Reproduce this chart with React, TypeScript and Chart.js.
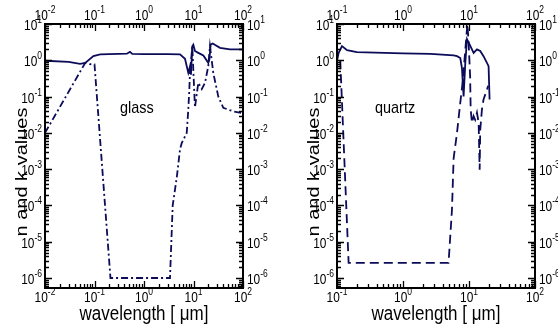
import { useEffect, useRef } from "react";
import { Chart, registerables } from "chart.js";

Chart.register(...registerables);

const NAVY = "#0b0b5a";
const SX = 0.85; // horizontal text compression of the reference

// ---------- glass (left panel) ----------
const glassNWave = [0.01, 0.03, 0.051, 0.065, 0.095, 0.13, 0.3, 0.45, 0.52, 0.58, 1, 3, 5.34, 6.73, 7.85, 8.49, 8.89, 9.46, 9.91, 10.7, 12.5, 15.8, 19.9, 20.9, 22.2, 24.4, 34.3, 54.6, 100];
const glassNVal = [0.97, 0.9, 0.8, 0.85, 1.3, 1.45, 1.5, 1.52, 1.7, 1.5, 1.48, 1.47, 1.45, 1.1, 0.45, 0.68, 0.4, 2.45, 2.7, 1.8, 1.6, 1.35, 0.85, 1.05, 2.7, 2.9, 2.2, 2.0, 2.0];
const glassKWave = [0.01, 0.065, 0.08, 0.1, 0.21, 3.35, 3.8, 4.6, 5.34, 5.78, 7.3, 7.85, 8.23, 8.5, 9.46, 10.7, 12.5, 14.7, 17.1, 19.9, 21.5, 25.1, 31.7, 40, 63.7, 100];
const glassKVal = [0.01, 0.85, 0.78, 0.77, 1e-6, 1e-6, 1e-4, 6e-4, 3.5e-3, 5.2e-3, 0.01, 0.044, 0.155, 0.46, 2.4, 0.05, 0.24, 0.16, 0.24, 0.69, 2.45, 0.45, 0.1, 0.049, 0.039, 0.035];

// ---------- quartz (right panel) ----------
const quartzNWave = [0.1, 0.106, 0.119, 0.142, 0.2, 1, 2.6, 5.85, 6.58, 7.38, 7.83, 8.11, 8.28, 8.79, 9.33, 10.5, 11.75, 13.2, 14.8, 16.6, 18.7, 19.8, 20.5];
const quartzNVal = [0.95, 1.6, 2.45, 1.9, 1.67, 1.55, 1.5, 1.36, 1.3, 1.15, 0.6, 0.19, 0.1, 0.85, 3.8, 2.45, 1.6, 2.0, 1.8, 1.3, 0.85, 0.69, 0.083];
const quartzKWave = [0.112, 0.15, 4.9, 5.52, 5.85, 6.58, 7.38, 8.1, 8.8, 9.45, 9.87, 10.4, 10.6, 11.1, 11.75, 12.4, 13.2, 14.0, 14.5, 14.8, 15.7, 16.6, 18.7, 19.5];
const quartzKVal = [1.0, 2.6e-6, 2.6e-6, 7.6e-5, 2e-3, 0.01, 0.068, 0.3, 2.0, 10, 3.1, 0.36, 0.044, 0.019, 0.029, 0.023, 0.036, 0.019, 9.6e-4, 0.012, 0.044, 0.083, 0.155, 0.2];

// ---------- axes ----------
const glassXDecades = [-2, -1, 0, 1, 2];
const quartzXDecades = [-1, 0, 1, 2];
const yDecades = [-6, -5, -4, -3, -2, -1, 0, 1];
const yMin = 5.3e-7;
const yMax = 10;
const xTitle = "wavelength [ \u03bcm]";
const yTitle = "n and k values";

const FONT = '"Liberation Sans", Arial, Helvetica, sans-serif';

function toPoints(xs: number[], ys: number[]) {
  return xs.map((x, i) => ({ x, y: ys[i] }));
}

function drawPow(ctx: CanvasRenderingContext2D, exp: number, x: number, y: number, align: string) {
  ctx.font = `14px ${FONT}`;
  const wb = ctx.measureText("10").width * SX;
  const es = String(exp);
  ctx.font = `10px ${FONT}`;
  const we = ctx.measureText(es).width * SX;
  const total = wb + we;
  const x0 = align === "center" ? x - total / 2 : align === "right" ? x - total : x;
  ctx.save();
  ctx.translate(x0, y);
  ctx.scale(SX, 1);
  ctx.textAlign = "left";
  ctx.textBaseline = "alphabetic";
  ctx.fillStyle = "#000";
  ctx.font = `14px ${FONT}`;
  ctx.fillText("10", 0, 0);
  ctx.font = `10px ${FONT}`;
  ctx.fillText(es, wb / SX, -7);
  ctx.restore();
}

function makeDeco(xDecades: number[], label: string) {
  return {
    id: "deco",
    afterDatasetsDraw(chart: any) {
      const ctx: CanvasRenderingContext2D = chart.ctx;
      const { left, right, top, bottom } = chart.chartArea;
      const xs = chart.scales.x;
      const ys = chart.scales.y;
      ctx.save();
      ctx.strokeStyle = "#000";
      // ticks
      ctx.lineWidth = 1.3;
      const xmin = xs.min, xmax = xs.max;
      for (let d = -3; d <= 2; d++) {
        for (let m = 1; m <= 9; m++) {
          const v = m * Math.pow(10, d);
          if (v < xmin * 0.999 || v > xmax * 1.001) continue;
          const px = Math.round(xs.getPixelForValue(v)) + 0.5;
          const len = m === 1 ? 7 : 4;
          ctx.beginPath();
          ctx.moveTo(px, bottom);
          ctx.lineTo(px, bottom - len);
          ctx.moveTo(px, top);
          ctx.lineTo(px, top + len);
          ctx.stroke();
        }
      }
      for (let d = -7; d <= 1; d++) {
        for (let m = 1; m <= 9; m++) {
          const v = m * Math.pow(10, d);
          if (v < yMin * 0.999 || v > yMax * 1.001) continue;
          const py = Math.round(ys.getPixelForValue(v)) + 0.5;
          const len = m === 1 ? 7 : 4;
          ctx.beginPath();
          ctx.moveTo(left, py);
          ctx.lineTo(left + len, py);
          ctx.moveTo(right, py);
          ctx.lineTo(right - len, py);
          ctx.stroke();
        }
      }
      // frame
      ctx.lineWidth = 2;
      ctx.strokeRect(left, top, right - left, bottom - top);
      // x labels
      xDecades.forEach((e) => {
        const px = xs.getPixelForValue(Math.pow(10, e));
        drawPow(ctx, e, px, bottom + 14, "center");
        drawPow(ctx, e, px, top - 4, "center");
      });
      yDecades.forEach((e) => {
        const py = ys.getPixelForValue(Math.pow(10, e));
        drawPow(ctx, e, left - 3, py + 6, "right");
        drawPow(ctx, e, right + 4, py + 6, "left");
      });
      // titles
      ctx.fillStyle = "#000";
      ctx.save();
      ctx.translate((left + right) / 2, 320);
      ctx.scale(SX, 1);
      ctx.font = `20px ${FONT}`;
      ctx.textAlign = "center";
      ctx.textBaseline = "alphabetic";
      ctx.fillText(xTitle, 0, 0);
      ctx.restore();

      ctx.save();
      ctx.translate(left - 18, 172);
      ctx.scale(SX, 1);
      ctx.rotate(-Math.PI / 2);
      ctx.font = `20px ${FONT}`;
      ctx.textAlign = "center";
      ctx.textBaseline = "alphabetic";
      ctx.fillText(yTitle, 0, 0);
      ctx.restore();

      // material label
      ctx.save();
      ctx.translate(left + (label === "glass" ? 75 : 38), 113);
      ctx.scale(SX, 1);
      ctx.font = `17px ${FONT}`;
      ctx.textAlign = "left";
      ctx.fillText(label, 0, 0);
      ctx.restore();
      ctx.restore();
    },
  };
}

function buildChart(canvas: HTMLCanvasElement, cfg: any) {
  return new Chart(canvas, {
    type: "line",
    data: {
      datasets: [
        {
          data: toPoints(cfg.nW, cfg.nV),
          borderColor: NAVY,
          borderWidth: 1.8,
          pointRadius: 0,
          fill: false,
          tension: 0,
        },
        {
          data: toPoints(cfg.kW, cfg.kV),
          borderColor: NAVY,
          borderWidth: 1.8,
          pointRadius: 0,
          fill: false,
          tension: 0,
          borderDash: cfg.dash,
        },
      ],
    },
    options: {
      animation: false,
      responsive: false,
      maintainAspectRatio: false,
      events: [],
      layout: { padding: cfg.padding },
      plugins: { legend: { display: false }, tooltip: { enabled: false } },
      scales: {
        x: { type: "logarithmic", min: cfg.xmin, max: cfg.xmax, display: false },
        y: { type: "logarithmic", min: yMin, max: yMax, display: false },
      },
    },
    plugins: [makeDeco(cfg.decades, cfg.label)],
  } as any);
}

export default function App() {
  const leftRef = useRef<HTMLCanvasElement>(null);
  const rightRef = useRef<HTMLCanvasElement>(null);

  useEffect(() => {
    const c1 = buildChart(leftRef.current!, {
      nW: glassNWave, nV: glassNVal, kW: glassKWave, kV: glassKVal,
      dash: [7, 3, 2, 3],
      padding: { left: 45, right: 315, top: 24, bottom: 39 },
      xmin: 0.01, xmax: 100, decades: glassXDecades, label: "glass",
    });
    const c2 = buildChart(rightRef.current!, {
      nW: quartzNWave, nV: quartzNVal, kW: quartzKWave, kV: quartzKVal,
      dash: [9, 5],
      padding: { left: 337, right: 23, top: 24, bottom: 39 },
      xmin: 0.1, xmax: 100, decades: quartzXDecades, label: "quartz",
    });
    return () => {
      c1.destroy();
      c2.destroy();
    };
  }, []);

  const cs: any = { position: "absolute", left: 0, top: 0, width: 558, height: 327 };
  return (
    <div style={{ position: "fixed", left: 0, top: 0, width: 558, height: 327, background: "#fff" }}>
      <canvas ref={leftRef} width={558} height={327} style={cs} />
      <canvas ref={rightRef} width={558} height={327} style={cs} />
    </div>
  );
}
